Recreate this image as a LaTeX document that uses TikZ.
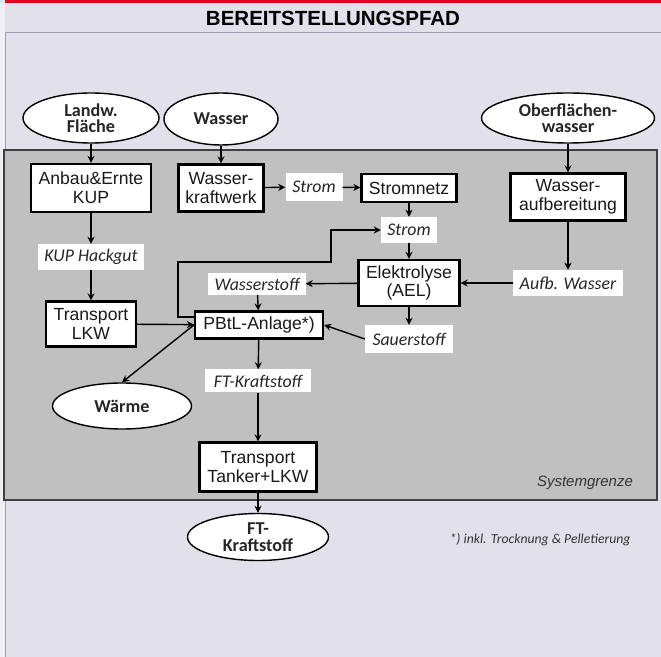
\documentclass[tikz,border=0pt]{standalone}
\usepackage{fontspec}
\setmainfont{Liberation Sans}
\newfontfamily\calibri{Carlito}
\usepackage{xcolor}
\usetikzlibrary{arrows.meta,shapes.geometric}
\definecolor{hintergrund}{HTML}{E2E0EA}
\definecolor{randhell}{HTML}{EFEFF4}
\definecolor{systemgrau}{HTML}{C0C0C0}
\definecolor{balkenrot}{HTML}{E50019}
\definecolor{trennlinie}{HTML}{9C9EB2}

\begin{document}
\begin{tikzpicture}[
    x=0.03cm, y=-0.03cm,
    pfeil/.style={-{Stealth[length=6pt,width=6pt]}, line width=1.2pt},
    prozess/.style={draw, fill=white, line width=1.9pt, inner sep=0pt, align=center,
        text=black!90, font=\fontsize{15}{16}\selectfont},
    stoff/.style={fill=white, inner sep=0pt, text=black!85,
        font=\calibri\itshape\fontsize{15.2}{16}\selectfont},
    quelle/.style={ellipse, draw, fill=white, line width=1.2pt, inner sep=0pt, align=center,
        text=black!85, font=\calibri\bfseries\fontsize{15.5}{14}\selectfont}
]
\useasboundingbox (0,0) rectangle (661,657);

% Hintergrund und Kopfzeile
\fill[hintergrund] (0,0) rectangle (661,657);
\fill[randhell] (0,3) rectangle (5,657);
\fill[balkenrot] (5,0) rectangle (661,3);
\draw[trennlinie, line width=0.8pt] (5,32) -- (661,32);
\draw[trennlinie, line width=0.8pt] (5,32) -- (5,657);
\node[font=\bfseries\fontsize{17.5}{20}\selectfont] (titel) at (333,18) {BEREITSTELLUNGSPFAD};

% Systemgrenze
\filldraw[fill=systemgrau, draw=black!75, line width=1.4pt] (4,150) rectangle (657,500);
\node[anchor=east, text=black!80, font=\itshape\fontsize{12.8}{14}\selectfont] (grenze) at (637,483) {Systemgrenze};

% Eingaenge
\node[quelle, minimum width=4.08cm, minimum height=1.5cm] (landw) at (91,118) {Landw.\\Fläche};
\node[quelle, minimum width=3.42cm, minimum height=1.56cm] (wasser) at (221,119) {Wasser};
\node[quelle, minimum width=5.19cm, minimum height=1.5cm] (oberfl) at (568,118) {Oberflächen-\\wasser};

% Prozesse
\node[prozess, minimum width=3.6cm, minimum height=1.44cm] (anbau) at (91,188) {Anbau\&Ernte\\KUP};
\node[prozess, minimum width=2.55cm, minimum height=1.41cm] (kraftwerk) at (221,188) {Wasser-\\kraftwerk};
\node[prozess, minimum width=2.85cm, minimum height=0.84cm] (stromnetz) at (409,188) {Stromnetz};
\node[prozess, minimum width=3.45cm, minimum height=1.41cm] (aufbereitung) at (568,197) {Wasser-\\aufbereitung};
\node[prozess, minimum width=3.03cm, minimum height=1.38cm] (elektrolyse) at (409,283) {Elektrolyse\\(AEL)};
\node[prozess, minimum width=2.7cm, minimum height=1.35cm] (lkw) at (91,324) {Transport\\LKW};
\node[prozess, minimum width=3.84cm, minimum height=0.81cm] (pbtl) at (259,325) {PBtL-Anlage*)};
\node[prozess, minimum width=3.51cm, minimum height=1.47cm] (tanker) at (258,467) {Transport\\Tanker+LKW};

% Stoffstroeme
\node[stoff, minimum width=1.71cm, minimum height=0.84cm] (strom1) at (314,187) {Strom};
\node[stoff, minimum width=1.68cm, minimum height=0.78cm] (strom2) at (409,230) {Strom};
\node[stoff, minimum width=3.18cm, minimum height=0.78cm] (hackgut) at (91,257) {KUP Hackgut};
\node[stoff, minimum width=2.91cm, minimum height=0.66cm] (wasserstoff) at (257,284) {Wasserstoff};
\node[stoff, minimum width=3.3cm, minimum height=0.78cm] (aufbwasser) at (568,283) {Aufb. Wasser};
\node[stoff, minimum width=2.64cm, minimum height=0.84cm] (sauerstoff) at (409,339) {Sauerstoff};
\node[stoff, minimum width=3.18cm, minimum height=0.69cm] (ftstoff) at (258,381) {FT-Kraftstoff};

% Ausgaenge
\node[quelle, minimum width=4.17cm, minimum height=1.38cm] (waerme) at (122,406) {Wärme};
\node[quelle, minimum width=4.23cm, minimum height=1.41cm] (ftk) at (258,537) {FT-\\Kraftstoff};

% Fussnote
\node[text=black!80, font=\calibri\itshape\fontsize{11.7}{13}\selectfont] (fussnote) at (540,540) {*) inkl. Trocknung \& Pelletierung};

% Pfeile
\draw[pfeil] (landw) -- (anbau);
\draw[pfeil] (wasser) -- (kraftwerk);
\draw[pfeil] (oberfl) -- (aufbereitung);
\draw[pfeil] (anbau) -- (hackgut);
\draw[pfeil] (hackgut) -- (lkw);
\draw[pfeil] (kraftwerk) -- (strom1);
\draw[pfeil] (strom1) -- (stromnetz);
\draw[pfeil] (stromnetz) -- (strom2);
\draw[pfeil] (strom2) -- (elektrolyse);
\draw[pfeil] (aufbereitung) -- (aufbwasser);
\draw[pfeil] (aufbwasser) -- (elektrolyse);
\draw[pfeil] (elektrolyse) -- (wasserstoff);
\draw[pfeil] (elektrolyse) -- (sauerstoff);
\draw[pfeil] (wasserstoff) -- (pbtl);
\draw[pfeil] (lkw) -- (pbtl);
\draw[pfeil] (sauerstoff.west) -- (pbtl.east);
\draw[pfeil] (pbtl.west) -- (waerme.north);
\draw[pfeil] (pbtl) -- (ftstoff);
\draw[pfeil] (ftstoff) -- (tanker);
\draw[pfeil] (tanker) -- (ftk);

% Rueckfuehrung Strom
\coordinate (knick1) at (178,262);
\coordinate (knick2) at (331,262);
\draw[pfeil] (pbtl.173) -| (knick1) -- (knick2) |- (strom2.west);

\end{tikzpicture}
\end{document}
